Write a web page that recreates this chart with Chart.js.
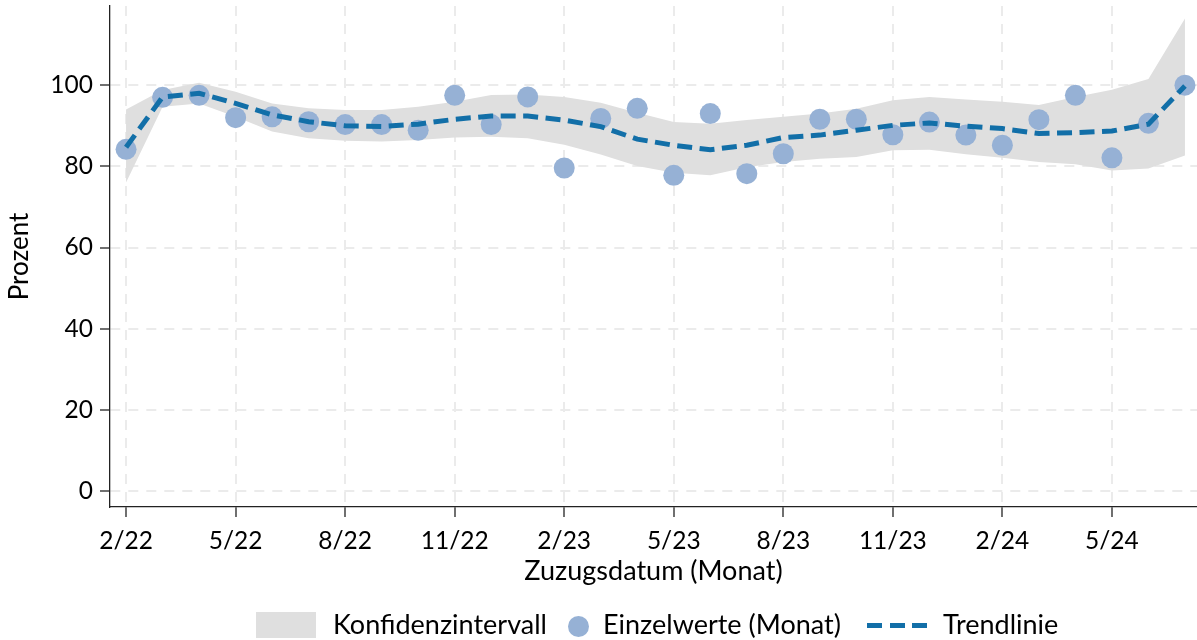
<!DOCTYPE html>
<html>
<head>
<meta charset="utf-8">
<script src="https://cdn.jsdelivr.net/npm/chart.js@4/dist/chart.umd.min.js"></script>
<style>
  body { margin: 0; background: #fff; overflow: hidden; }
  #wrap { position: relative; width: 1197px; height: 640px; font-family: Lato, sans-serif; color: #000; }
  #chart { display: block; }
  #legend .txt { position: absolute; top: 607px; font-size: 27px; line-height: 34px; white-space: nowrap; }
  #legend .box { position: absolute; left: 256px; top: 612px; width: 60px; height: 26px; background: #dfdfdf; }
  #legend .dot { position: absolute; left: 568px; top: 616px; width: 21px; height: 21px; border-radius: 50%; background: #96b1d5; }
  #legend .dash { position: absolute; left: 867px; top: 623px; width: 60px; height: 5px;
    background: repeating-linear-gradient(to right, #126fa8 0 15px, transparent 15px 22.5px); }
</style>
</head>
<body>
<div id="wrap">
  <canvas id="chart" width="1197" height="640"></canvas>
  <div id="legend">
    <div class="box"></div>
    <div class="txt" style="left:333px">Konfidenzintervall</div>
    <div class="dot"></div>
    <div class="txt" style="left:603px">Einzelwerte (Monat)</div>
    <div class="dash"></div>
    <div class="txt" style="left:943px">Trendlinie</div>
  </div>
</div>
<script>
// months 2/22 .. 7/24
var months = ['2/22','3/22','4/22','5/22','6/22','7/22','8/22','9/22','10/22','11/22','12/22',
              '1/23','2/23','3/23','4/23','5/23','6/23','7/23','8/23','9/23','10/23','11/23','12/23',
              '1/24','2/24','3/24','4/24','5/24','6/24','7/24'];
var tickMonths = [0, 3, 6, 9, 12, 15, 18, 21, 24, 27];
var yTicks = [0, 20, 40, 60, 80, 100];

// monthly single values (Prozent)
var einzelwerte = [84.2, 97.0, 97.5, 92.0, 92.2, 91.0, 90.3, 90.3, 88.9, 97.5, 90.3,
                   97.1, 79.6, 91.8, 94.3, 77.8, 93.0, 78.2, 83.1, 91.6, 91.6, 87.8, 90.9,
                   87.7, 85.2, 91.5, 97.5, 82.1, 90.6, 100.0];
// trend line
var trend = [84.7, 97.1, 98.0, 95.5, 92.7, 91.0, 90.0, 89.8, 90.4, 91.6, 92.4,
             92.4, 91.4, 89.8, 86.7, 85.2, 84.1, 85.2, 87.1, 87.7, 88.9, 90.1, 90.7,
             89.9, 89.3, 88.1, 88.3, 88.7, 90.4, 99.8];
// confidence interval
var ciLower = [76.0, 94.7, 95.5, 92.2, 88.6, 86.9, 86.3, 86.1, 86.5, 87.1, 87.3,
               86.9, 85.3, 82.9, 80.1, 78.4, 77.8, 79.8, 81.1, 81.9, 82.3, 84.0, 84.1,
               83.0, 82.1, 81.1, 80.5, 79.0, 79.5, 82.7];
var ciUpper = [94.0, 98.8, 100.6, 98.4, 95.5, 94.3, 93.9, 93.9, 94.7, 95.9, 97.6,
               97.7, 97.1, 95.7, 93.2, 90.9, 90.5, 91.4, 92.2, 93.0, 94.2, 96.3, 97.1,
               96.5, 95.9, 95.1, 97.1, 98.9, 101.5, 116.4];

function xy(arr) {
    var out = [];
    for (var i = 0; i < arr.length; i++) {
        out.push({x: i, y: arr[i]});
    }
    return out;
}

Chart.defaults.font.family = 'Lato, sans-serif';
Chart.defaults.color = '#000';

var gridOpts = {
    color: '#ebebeb',
    lineWidth: 2,
    tickLength: 10,
    tickColor: '#222',
    tickWidth: 1.3
};

var ctx = document.getElementById('chart').getContext('2d');
var chart = new Chart(ctx, {
    type: 'line',
    data: {
        datasets: [
            {   // lower edge of band
                data: xy(ciLower),
                borderWidth: 0,
                pointRadius: 0,
                fill: false,
                order: 2
            },
            {   // upper edge, filled down to lower
                data: xy(ciUpper),
                borderWidth: 0,
                pointRadius: 0,
                backgroundColor: '#dfdfdf',
                fill: '-1',
                order: 2
            },
            {
                data: xy(einzelwerte),
                showLine: false,
                pointRadius: 10.5,
                pointBackgroundColor: '#96b1d5',
                pointBorderWidth: 0,
                order: 1
            },
            {
                data: xy(trend),
                borderColor: '#126fa8',
                borderWidth: 5,
                borderDash: [15, 7.5],
                borderCapStyle: 'butt',
                pointRadius: 0,
                tension: 0,
                fill: false,
                order: 0
            }
        ]
    },
    options: {
        responsive: false,
        animation: false,
        layout: { autoPadding: false, padding: { top: 6, left: 0, right: 0, bottom: 53 } },
        plugins: { legend: { display: false }, tooltip: { enabled: false } },
        scales: {
            x: {
                type: 'linear',
                min: -0.44,
                max: 29.33,
                afterFit: function(scale) {
                    scale.height = 80;
                    scale.paddingLeft = 0;
                    scale.paddingRight = 0;
                },
                afterBuildTicks: function(scale) {
                    scale.ticks = tickMonths.map(function(v) { return {value: v}; });
                },
                ticks: {
                    autoSkip: false,
                    maxRotation: 0,
                    padding: 9,
                    font: { size: 24.5 },
                    callback: function(v) { return months[v]; }
                },
                grid: gridOpts,
                border: { color: '#222', width: 1.3, dash: [10, 8] },
                title: {
                    display: true,
                    text: 'Zuzugsdatum (Monat)',
                    font: { size: 27 },
                    padding: { top: 0, bottom: 0 }
                }
            },
            y: {
                min: -3.9,
                max: 119.5,
                afterFit: function(scale) {
                    scale.width = 110;
                    scale.paddingTop = 0;
                    scale.paddingBottom = 0;
                },
                afterBuildTicks: function(scale) {
                    scale.ticks = yTicks.map(function(v) { return {value: v}; });
                },
                ticks: {
                    padding: 7,
                    font: { size: 24.5 }
                },
                grid: gridOpts,
                border: { color: '#222', width: 1.3, dash: [10, 8] },
                title: {
                    display: true,
                    text: 'Prozent',
                    font: { size: 26 },
                    padding: { top: 4, bottom: 0 }
                }
            }
        }
    }
});
</script>
</body>
</html>
